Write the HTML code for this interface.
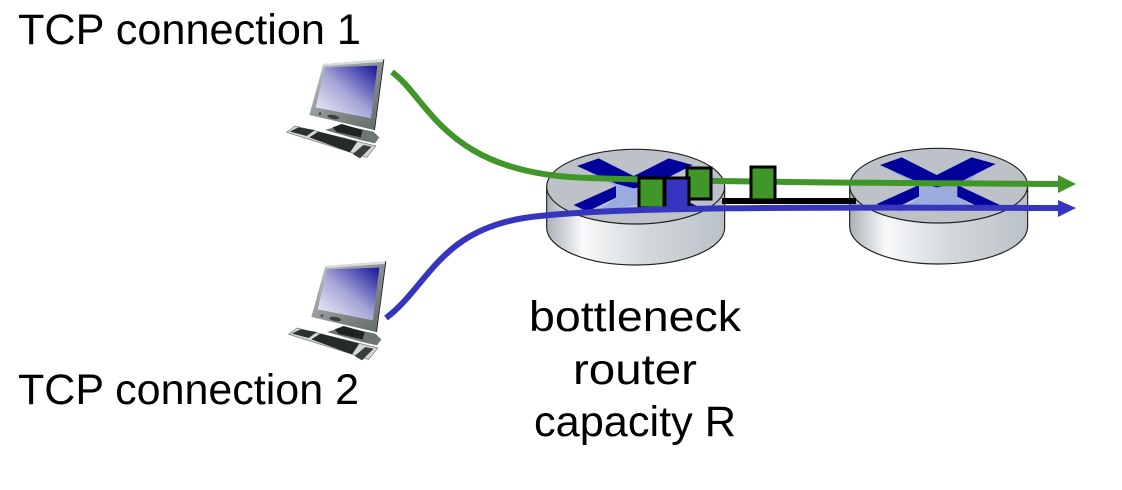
<!DOCTYPE html>
<html><head><meta charset="utf-8"><style>html,body{margin:0;padding:0;background:#fff}svg{display:block}text{font-family:"Liberation Sans",sans-serif;font-size:43px;fill:#000}</style></head><body>
<svg width="1122" height="490" viewBox="0 0 1122 490" xmlns="http://www.w3.org/2000/svg">
<defs>
<linearGradient id="side" x1="0" x2="1" y1="0" y2="0"><stop offset="0" stop-color="#a9b0b6"/><stop offset=".2" stop-color="#f7f9fa"/><stop offset=".55" stop-color="#d5d9dc"/><stop offset="1" stop-color="#b9c1c7"/></linearGradient>
<linearGradient id="scr" x1="1" y1="0" x2="0" y2="1"><stop offset="0" stop-color="#14149a"/><stop offset=".5" stop-color="#a4a4d6"/><stop offset="1" stop-color="#f5f5fa"/></linearGradient>
<linearGradient id="bez" x1="0" y1="0" x2="1" y2="1"><stop offset="0" stop-color="#c5caca"/><stop offset=".5" stop-color="#8b9292"/><stop offset="1" stop-color="#5f6666"/></linearGradient>
<g id="pc">
<polygon points="165,240 215,225 310,245 328,262 315,280 270,270" fill="#6d7575"/>
<polygon points="188,232 215,222 278,240 272,262 200,246" fill="#1f2323"/>
<polygon points="160,42 340,28 312,240 118,195" fill="url(#bez)"/>
<polygon points="160,42 340,28 338,36 162,48" fill="#d8dcdc"/>
<polygon points="340,28 343,28 315,240 312,240" fill="#222"/>
<polygon points="165,52 322,47 303,205 137,172" fill="url(#scr)"/>
<ellipse cx="190" cy="201" rx="18" ry="6" fill="#3c4242" transform="rotate(10 190 201)"/>
<circle cx="150" cy="191" r="4" fill="#3c4242"/>
<polygon points="50,247 75,228 318,288 290,322" fill="#d4d8d8" stroke="#777" stroke-width="2"/>
<polygon points="60,245 85,232 135,240 110,258" fill="#2c3030"/>
<polygon points="118,262 145,245 262,275 240,307" fill="#262a2a"/>
<polygon points="248,312 280,285 305,290 270,325" fill="#3a3e3e"/>
</g>
<g id="router">
<path d="M59,137V260C59,322 178,372 326,372S593,322 593,260V137Z" fill="url(#side)" stroke="#222" stroke-width="3.5"/>
<ellipse cx="326" cy="137" rx="267" ry="112" fill="#bcc2c8" stroke="#222" stroke-width="3.5"/>
<polygon points="190,97 225,90 320,135 445,95 420,125 382,140 382,170 445,208 320,192 200,217 267,172 267,135" fill="#9aabdd"/>
<polygon points="150,75 215,52 320,105 425,52 497,72 382,130 320,142 267,128" fill="#00009a"/>
<polygon points="140,192 267,135 267,170 180,212" fill="#00009a"/>
<polygon points="382,135 510,195 470,212 382,170" fill="#00009a"/>
</g>
</defs>
<rect width="1122" height="490" fill="#fff"/>
<use href="#pc" transform="translate(270,50) scale(.3333)"/>
<use href="#pc" transform="translate(272,252) scale(.3333)"/>
<use href="#router" transform="translate(527,141) scale(.3333)"/>
<use href="#router" transform="translate(830,140) scale(.3333)"/>
<path d="M722,201H856" stroke="#000" stroke-width="6" fill="none"/>
<path d="M392,72C430,100 445,175 590,178C700,182 900,183 1058,184" stroke="#41962a" stroke-width="6" fill="none"/>
<polygon points="1058,175 1076,184 1058,193" fill="#41962a"/>
<rect x="639" y="178" width="25" height="30" fill="#41962a" stroke="#000" stroke-width="3"/>
<rect x="687" y="168" width="24" height="31" fill="#41962a" stroke="#000" stroke-width="3"/>
<rect x="751" y="167" width="24" height="33" fill="#41962a" stroke="#000" stroke-width="3"/>
<rect x="665" y="178" width="24" height="31" fill="#3535bd" stroke="#000" stroke-width="3"/>
<path d="M386,318C430,285 440,225 540,216C620,207 800,207 1058,208" stroke="#3535bd" stroke-width="6" fill="none"/>
<polygon points="1058,200 1076,208 1058,217" fill="#3535bd"/>
<text x="18" y="44" textLength="343" lengthAdjust="spacingAndGlyphs">TCP connection 1</text>
<text x="18" y="404" textLength="341" lengthAdjust="spacingAndGlyphs">TCP connection 2</text>
<text x="529" y="331" textLength="212" lengthAdjust="spacingAndGlyphs">bottleneck</text>
<text x="573" y="384" textLength="124" lengthAdjust="spacingAndGlyphs">router</text>
<text x="534" y="436" textLength="202" lengthAdjust="spacingAndGlyphs">capacity R</text>
</svg>
</body></html>
